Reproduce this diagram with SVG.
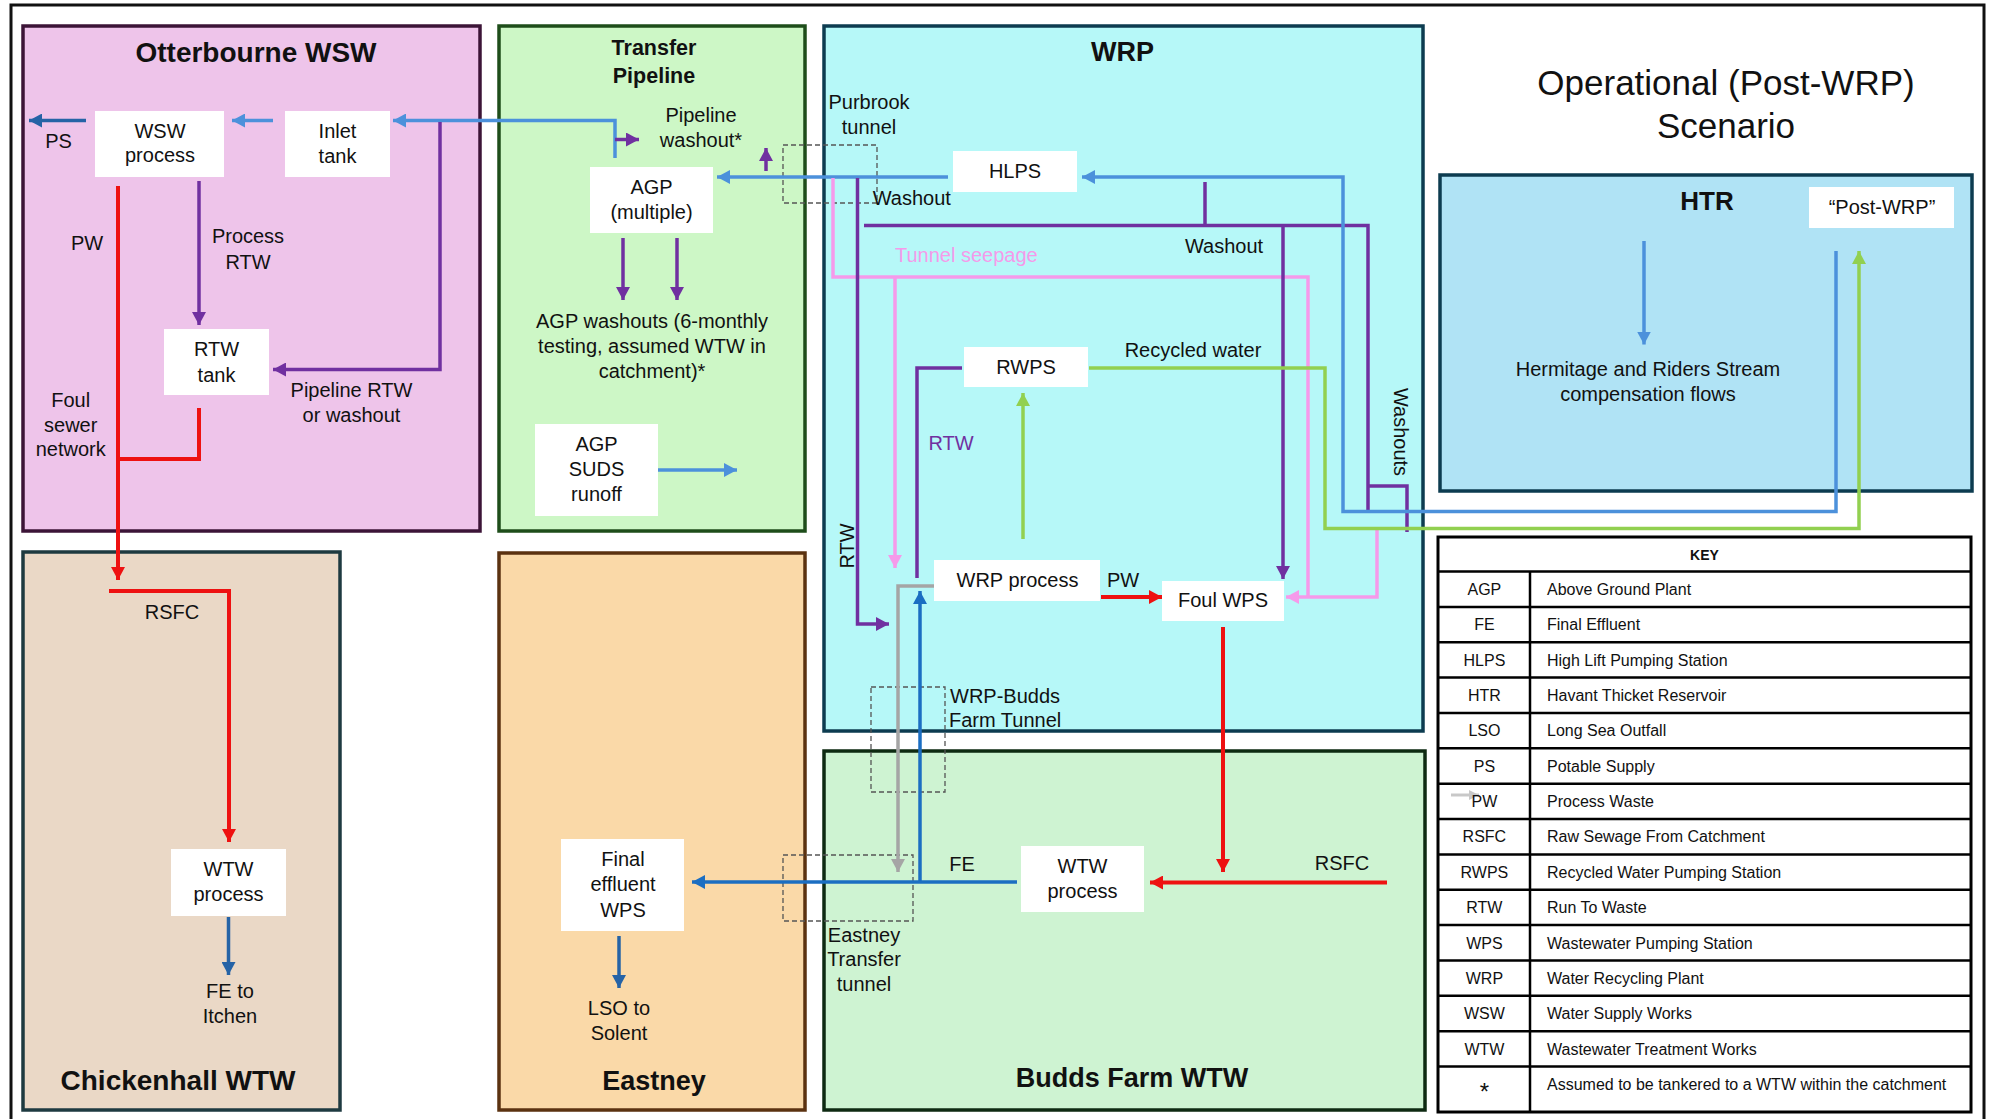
<svg xmlns="http://www.w3.org/2000/svg" width="1997" height="1119" viewBox="0 0 1997 1119">
<defs>
<style>
.t{font-family:"Liberation Sans",Arial,sans-serif;font-size:20px;fill:#111;text-anchor:middle}
.s{text-anchor:start}
.b{font-weight:bold;font-size:27px}
.box{stroke-width:3.5}
.node{fill:#fff}
.c{fill:none;stroke-width:3.5}
.lb{stroke:#4C91DB}.db{stroke:#2563A6}.fe{stroke:#1B6EC2}.pu{stroke:#7030A0}.rd{stroke:#EE1111;stroke-width:4}.gr{stroke:#92D050}.pk{stroke:#F59AEA}.gy{stroke:#A5A5A5}
.dash{fill:none;stroke:#555;stroke-width:1.3;stroke-dasharray:5 3}
.k{font-size:16px}
.kl{stroke:#000;stroke-width:2.5}
</style>
<marker id="m-lb" viewBox="0 0 13 14" refX="13" refY="7" markerWidth="13" markerHeight="14" markerUnits="userSpaceOnUse" orient="auto"><path d="M0,0L13,7L0,14z" fill="#4C91DB"/></marker>
<marker id="m-db" viewBox="0 0 13 14" refX="13" refY="7" markerWidth="13" markerHeight="14" markerUnits="userSpaceOnUse" orient="auto"><path d="M0,0L13,7L0,14z" fill="#2563A6"/></marker>
<marker id="m-fe" viewBox="0 0 13 14" refX="13" refY="7" markerWidth="13" markerHeight="14" markerUnits="userSpaceOnUse" orient="auto"><path d="M0,0L13,7L0,14z" fill="#1B6EC2"/></marker>
<marker id="m-pu" viewBox="0 0 13 14" refX="13" refY="7" markerWidth="13" markerHeight="14" markerUnits="userSpaceOnUse" orient="auto"><path d="M0,0L13,7L0,14z" fill="#7030A0"/></marker>
<marker id="m-rd" viewBox="0 0 13 14" refX="13" refY="7" markerWidth="13" markerHeight="14" markerUnits="userSpaceOnUse" orient="auto"><path d="M0,0L13,7L0,14z" fill="#EE1111"/></marker>
<marker id="m-gr" viewBox="0 0 13 14" refX="13" refY="7" markerWidth="13" markerHeight="14" markerUnits="userSpaceOnUse" orient="auto"><path d="M0,0L13,7L0,14z" fill="#92D050"/></marker>
<marker id="m-pk" viewBox="0 0 13 14" refX="13" refY="7" markerWidth="13" markerHeight="14" markerUnits="userSpaceOnUse" orient="auto"><path d="M0,0L13,7L0,14z" fill="#F59AEA"/></marker>
<marker id="m-gy" viewBox="0 0 13 14" refX="13" refY="7" markerWidth="13" markerHeight="14" markerUnits="userSpaceOnUse" orient="auto"><path d="M0,0L13,7L0,14z" fill="#A5A5A5"/></marker>
<marker id="m-lg" viewBox="0 0 10 10" refX="10" refY="5" markerWidth="10" markerHeight="10" markerUnits="userSpaceOnUse" orient="auto"><path d="M0,0L10,5L0,10z" fill="#C8C8C8"/></marker>
</defs>
<rect x="0" y="0" width="1997" height="1119" fill="#fff"/>
<rect x="11" y="5" width="1973" height="1125" fill="none" stroke="#111" stroke-width="3"/>

<g id="otterbourne-wsw">
<rect class="box" x="23" y="26" width="457" height="505" fill="#EEC4EA" stroke="#3C1437"/>
<text class="t b" x="256" y="62" style="font-size:28px">Otterbourne WSW</text>
</g>
<g id="transfer-pipeline">
<rect class="box" x="499" y="26" width="306" height="505" fill="#CDF7C6" stroke="#1E4D1A"/>
<text class="t b" x="654" y="55" style="font-size:21.5px">Transfer</text>
<text class="t b" x="654" y="82.5" style="font-size:21.5px">Pipeline</text>
</g>
<g id="wrp">
<rect class="box" x="824" y="26" width="599" height="705" fill="#B6F8F8" stroke="#0D3C50"/>
<text class="t b" x="1122.5" y="61">WRP</text>
</g>
<g id="htr">
<rect class="box" x="1440" y="175" width="532" height="316" fill="#B0E3F5" stroke="#0D3C50"/>
<text class="t b" x="1707" y="210" style="font-size:26px">HTR</text>
<text class="t" x="1648" y="376">Hermitage and Riders Stream</text>
<text class="t" x="1648" y="401">compensation flows</text>
</g>
<g id="chickenhall-wtw">
<rect class="box" x="23" y="552" width="317" height="558" fill="#EAD8C6" stroke="#1E3A40"/>
<text class="t b" x="178" y="1090" style="font-size:28px">Chickenhall WTW</text>
</g>
<g id="eastney">
<rect class="box" x="499" y="553" width="306" height="557" fill="#FAD9A8" stroke="#5B3210"/>
<text class="t b" x="654" y="1090">Eastney</text>
</g>
<g id="budds-farm-wtw">
<rect class="box" x="824" y="751" width="601" height="359" fill="#CEF3D2" stroke="#0E2A12"/>
<text class="t b" x="1132" y="1087">Budds Farm WTW</text>
</g>

<g id="title">
<text class="t" x="1726" y="95" style="font-size:35px">Operational (Post-WRP)</text>
<text class="t" x="1726" y="138" style="font-size:35px">Scenario</text>
</g>

<g id="tunnels">
<rect class="dash" x="783" y="145" width="94" height="58"/>
<rect class="dash" x="871" y="687" width="74" height="105"/>
<rect class="dash" x="783" y="855" width="130" height="66"/>
</g>

<g id="connectors">
<path class="c db" d="M86,120.5L29,120.5" marker-end="url(#m-db)"/>
<path class="c lb" d="M273,120.5L232,120.5" marker-end="url(#m-lb)"/>
<path class="c lb" d="M615,158L615,120.5L393,120.5" marker-end="url(#m-lb)"/>
<path class="c pu" d="M440,122L440,369.5L273,369.5" marker-end="url(#m-pu)"/>
<path class="c pu" d="M199,181L199,325" marker-end="url(#m-pu)"/>
<path class="c rd" d="M118,186L118,580" marker-end="url(#m-rd)"/>
<path class="c rd" d="M199,408L199,459L118,459"/>
<path class="c rd" d="M109,591L229,591L229,842" marker-end="url(#m-rd)"/>
<path class="c db" d="M228.5,917L228.5,975" marker-end="url(#m-db)"/>
<path class="c pu" d="M615,139.5L639,139.5" marker-end="url(#m-pu)"/>
<path class="c pu" d="M766,171L766,148" marker-end="url(#m-pu)"/>
<path class="c lb" d="M948,177L717,177" marker-end="url(#m-lb)"/>
<path class="c pu" d="M623,238L623,300" marker-end="url(#m-pu)"/>
<path class="c pu" d="M677,238L677,300" marker-end="url(#m-pu)"/>
<path class="c lb" d="M658,470L737,470" marker-end="url(#m-lb)"/>
<path class="c pk" d="M833,178L833,277L1308,277L1308,597"/>
<path class="c pk" d="M895,277L895,568" marker-end="url(#m-pk)"/>
<path class="c pk" d="M1377,528.5L1377,597L1286,597" marker-end="url(#m-pk)"/>
<path class="c pu" d="M857.5,178L857.5,624L889,624" marker-end="url(#m-pu)"/>
<path class="c pu" d="M864,225.5L1368,225.5L1368,511.5"/>
<path class="c pu" d="M1205,182L1205,225.5"/>
<path class="c pu" d="M1283,226L1283,579" marker-end="url(#m-pu)"/>
<path class="c pu" d="M1368,486L1407,486L1407,532"/>
<path class="c lb" d="M1836,251L1836,511.5L1343,511.5L1343,177L1082,177" marker-end="url(#m-lb)"/>
<path class="c gr" d="M1089,368L1325,368L1325,528.5L1859,528.5L1859,251" marker-end="url(#m-gr)"/>
<path class="c gr" d="M1023,539L1023,393" marker-end="url(#m-gr)"/>
<path class="c pu" d="M962,368L917,368L917,578"/>
<path class="c gy" d="M934,586L898,586L898,872" marker-end="url(#m-gy)"/>
<path class="c fe" d="M920,882L920,591" marker-end="url(#m-fe)"/>
<path class="c fe" d="M1017,882L692,882" marker-end="url(#m-fe)"/>
<path class="c rd" d="M1101,597L1162,597" marker-end="url(#m-rd)"/>
<path class="c rd" d="M1223,627L1223,872" marker-end="url(#m-rd)"/>
<path class="c rd" d="M1387,882.5L1150,882.5" marker-end="url(#m-rd)"/>
<path class="c db" d="M619,936L619,988" marker-end="url(#m-db)"/>
<path class="c lb" d="M1644,241L1644,344.5" marker-end="url(#m-lb)"/>
</g>

<g id="labels">
<text class="t" x="58.5" y="148">PS</text>
<text class="t" x="87" y="250">PW</text>
<text class="t" x="248" y="243">Process</text>
<text class="t" x="248" y="268.5">RTW</text>
<text class="t" x="351.5" y="397">Pipeline RTW</text>
<text class="t" x="351.5" y="422">or washout</text>
<text class="t" x="70.7" y="407">Foul</text>
<text class="t" x="70.7" y="432">sewer</text>
<text class="t" x="70.7" y="456">network</text>
<text class="t" x="172" y="619">RSFC</text>
<text class="t" x="230" y="997.5">FE to</text>
<text class="t" x="230" y="1023">Itchen</text>
<text class="t" x="701" y="122">Pipeline</text>
<text class="t" x="701" y="147">washout*</text>
<text class="t" x="652" y="328">AGP washouts (6-monthly</text>
<text class="t" x="652" y="353">testing, assumed WTW in</text>
<text class="t" x="652" y="377.5">catchment)*</text>
<text class="t" x="869" y="109">Purbrook</text>
<text class="t" x="869" y="134">tunnel</text>
<text class="t s" x="872.7" y="205">Washout</text>
<text class="t s" x="895" y="261.5" style="fill:#F59AEA">Tunnel seepage</text>
<text class="t" x="1224" y="252.5">Washout</text>
<text class="t" x="1193" y="357">Recycled water</text>
<text class="t" x="951" y="450" style="fill:#7030A0">RTW</text>
<text class="t" transform="translate(1394,432) rotate(90)">Washouts</text>
<text class="t" transform="translate(853.5,546) rotate(-90)">RTW</text>
<text class="t" x="1123" y="587">PW</text>
<text class="t s" x="950" y="702.5">WRP-Budds</text>
<text class="t s" x="949" y="727">Farm Tunnel</text>
<text class="t" x="962" y="870.5">FE</text>
<text class="t" x="1342" y="870">RSFC</text>
<text class="t" x="864" y="941.5">Eastney</text>
<text class="t" x="864" y="966">Transfer</text>
<text class="t" x="864" y="990.5">tunnel</text>
<text class="t" x="619" y="1014.5">LSO to</text>
<text class="t" x="619" y="1040">Solent</text>
</g>

<g id="node-wsw-process"><rect class="node" x="95" y="111" width="129" height="66"/><text class="t" x="160" y="138">WSW</text><text class="t" x="160" y="162">process</text></g>
<g id="node-inlet-tank"><rect class="node" x="285" y="111" width="105" height="66"/><text class="t" x="337.5" y="138">Inlet</text><text class="t" x="337.5" y="163">tank</text></g>
<g id="node-rtw-tank"><rect class="node" x="164" y="329" width="105" height="66"/><text class="t" x="216.5" y="356">RTW</text><text class="t" x="216.5" y="381.5">tank</text></g>
<g id="node-chickenhall-wtw-process"><rect class="node" x="171" y="849" width="115" height="67"/><text class="t" x="228.5" y="875.5">WTW</text><text class="t" x="228.5" y="901">process</text></g>
<g id="node-agp"><rect class="node" x="590" y="167" width="123" height="66"/><text class="t" x="651.5" y="194">AGP</text><text class="t" x="651.5" y="218.5">(multiple)</text></g>
<g id="node-agp-suds"><rect class="node" x="535" y="424" width="123" height="92"/><text class="t" x="596.5" y="451">AGP</text><text class="t" x="596.5" y="476">SUDS</text><text class="t" x="596.5" y="501">runoff</text></g>
<g id="node-hlps"><rect class="node" x="953" y="151" width="124" height="41"/><text class="t" x="1015" y="177.5">HLPS</text></g>
<g id="node-rwps"><rect class="node" x="964" y="347" width="124" height="40"/><text class="t" x="1026" y="374">RWPS</text></g>
<g id="node-wrp-process"><rect class="node" x="934" y="560" width="166" height="41"/><text class="t" x="1017.5" y="587">WRP process</text></g>
<g id="node-foul-wps"><rect class="node" x="1162" y="581" width="122" height="40"/><text class="t" x="1223" y="607">Foul WPS</text></g>
<g id="node-budds-wtw-process"><rect class="node" x="1021" y="846" width="123" height="66"/><text class="t" x="1082.5" y="872.5">WTW</text><text class="t" x="1082.5" y="898">process</text></g>
<g id="node-final-effluent-wps"><rect class="node" x="561" y="839" width="123" height="92"/><text class="t" x="623" y="866">Final</text><text class="t" x="623" y="891">effluent</text><text class="t" x="623" y="917">WPS</text></g>
<g id="node-post-wrp"><rect class="node" x="1809" y="187" width="145" height="41"/><text class="t" x="1882" y="213.5">“Post-WRP”</text></g>

<g id="key">
<rect x="1438" y="537" width="533" height="575" fill="#fff" stroke="#000" stroke-width="3"/>
<path class="kl" d="M1438,571.5H1971M1438,606.9H1971M1438,642.2H1971M1438,677.6H1971M1438,712.9H1971M1438,748.3H1971M1438,783.7H1971M1438,819H1971M1438,854.4H1971M1438,889.7H1971M1438,925.1H1971M1438,960.5H1971M1438,995.8H1971M1438,1031.2H1971M1438,1066.5H1971M1530,571.5V1112"/>
<text class="t k" x="1704.5" y="560" style="font-weight:bold;font-size:14px">KEY</text>
<path d="M1451,795L1479,795" stroke="#C8C8C8" stroke-width="3" marker-end="url(#m-lg)"/>
<g>
<text class="t k" x="1484.4" y="595">AGP</text><text class="t k s" x="1547" y="595">Above Ground Plant</text>
<text class="t k" x="1484.4" y="630.3">FE</text><text class="t k s" x="1547" y="630.3">Final Effluent</text>
<text class="t k" x="1484.4" y="665.6">HLPS</text><text class="t k s" x="1547" y="665.6">High Lift Pumping Station</text>
<text class="t k" x="1484.4" y="701">HTR</text><text class="t k s" x="1547" y="701">Havant Thicket Reservoir</text>
<text class="t k" x="1484.4" y="736.3">LSO</text><text class="t k s" x="1547" y="736.3">Long Sea Outfall</text>
<text class="t k" x="1484.4" y="771.7">PS</text><text class="t k s" x="1547" y="771.7">Potable Supply</text>
<text class="t k" x="1484.4" y="807.1">PW</text><text class="t k s" x="1547" y="807.1">Process Waste</text>
<text class="t k" x="1484.4" y="842.4">RSFC</text><text class="t k s" x="1547" y="842.4">Raw Sewage From Catchment</text>
<text class="t k" x="1484.4" y="877.8">RWPS</text><text class="t k s" x="1547" y="877.8">Recycled Water Pumping Station</text>
<text class="t k" x="1484.4" y="913.1">RTW</text><text class="t k s" x="1547" y="913.1">Run To Waste</text>
<text class="t k" x="1484.4" y="948.5">WPS</text><text class="t k s" x="1547" y="948.5">Wastewater Pumping Station</text>
<text class="t k" x="1484.4" y="983.9">WRP</text><text class="t k s" x="1547" y="983.9">Water Recycling Plant</text>
<text class="t k" x="1484.4" y="1019.2">WSW</text><text class="t k s" x="1547" y="1019.2">Water Supply Works</text>
<text class="t k" x="1484.4" y="1054.6">WTW</text><text class="t k s" x="1547" y="1054.6">Wastewater Treatment Works</text>
<text class="t" x="1484.4" y="1100" style="font-size:24px">*</text><text class="t k s" x="1547" y="1090">Assumed to be tankered to a WTW within the catchment</text>
</g>
</g>
</svg>
